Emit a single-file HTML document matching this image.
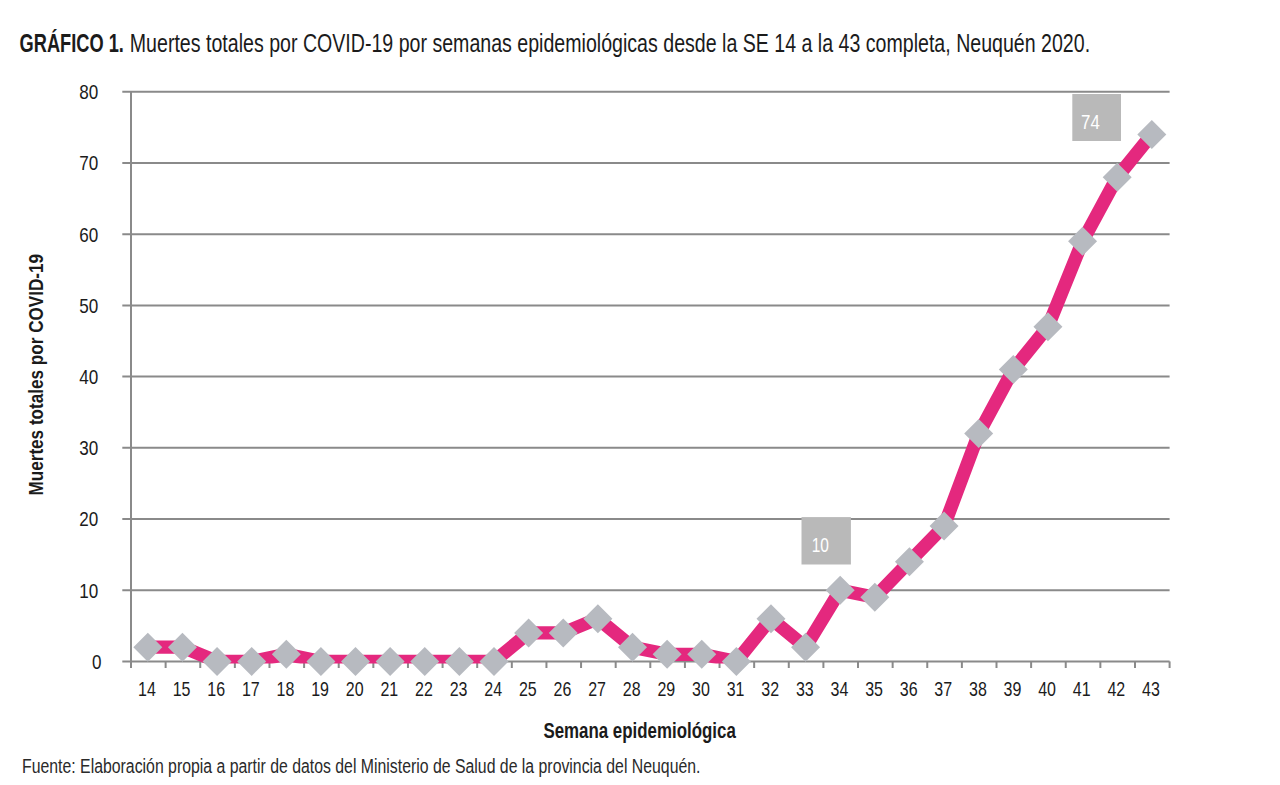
<!DOCTYPE html>
<html><head><meta charset="utf-8"><style>
html,body{margin:0;padding:0;background:#fff;}
body{width:1280px;height:785px;overflow:hidden;}
svg{display:block;font-family:"Liberation Sans",sans-serif;}
</style></head><body>
<svg width="1280" height="785" viewBox="0 0 1280 785">
<rect width="1280" height="785" fill="#fff"/>
<text x="19.6" y="51.6" font-size="25px" font-weight="bold" fill="#1b1b1b" textLength="104.3" lengthAdjust="spacingAndGlyphs">GRÁFICO 1.</text>
<text x="129.8" y="51.6" font-size="25px" fill="#1b1b1b" textLength="960.3" lengthAdjust="spacingAndGlyphs">Muertes totales por COVID-19 por semanas epidemiológicas desde la SE 14 a la 43 completa, Neuquén 2020.</text>
<g stroke="#8a8a8a" stroke-width="2" fill="none">
<line x1="122.3" y1="661.40" x2="1169.60" y2="661.40"/>
<line x1="122.3" y1="590.20" x2="1169.60" y2="590.20"/>
<line x1="122.3" y1="519.00" x2="1169.60" y2="519.00"/>
<line x1="122.3" y1="447.80" x2="1169.60" y2="447.80"/>
<line x1="122.3" y1="376.60" x2="1169.60" y2="376.60"/>
<line x1="122.3" y1="305.40" x2="1169.60" y2="305.40"/>
<line x1="122.3" y1="234.20" x2="1169.60" y2="234.20"/>
<line x1="122.3" y1="163.00" x2="1169.60" y2="163.00"/>
<line x1="122.3" y1="91.80" x2="1169.60" y2="91.80"/>

<line x1="131.00" y1="90.90" x2="131.00" y2="668"/>
<line x1="131.00" y1="661.40" x2="131.00" y2="668"/>
<line x1="165.62" y1="661.40" x2="165.62" y2="668"/>
<line x1="200.24" y1="661.40" x2="200.24" y2="668"/>
<line x1="234.86" y1="661.40" x2="234.86" y2="668"/>
<line x1="269.48" y1="661.40" x2="269.48" y2="668"/>
<line x1="304.10" y1="661.40" x2="304.10" y2="668"/>
<line x1="338.72" y1="661.40" x2="338.72" y2="668"/>
<line x1="373.34" y1="661.40" x2="373.34" y2="668"/>
<line x1="407.96" y1="661.40" x2="407.96" y2="668"/>
<line x1="442.58" y1="661.40" x2="442.58" y2="668"/>
<line x1="477.20" y1="661.40" x2="477.20" y2="668"/>
<line x1="511.82" y1="661.40" x2="511.82" y2="668"/>
<line x1="546.44" y1="661.40" x2="546.44" y2="668"/>
<line x1="581.06" y1="661.40" x2="581.06" y2="668"/>
<line x1="615.68" y1="661.40" x2="615.68" y2="668"/>
<line x1="650.30" y1="661.40" x2="650.30" y2="668"/>
<line x1="684.92" y1="661.40" x2="684.92" y2="668"/>
<line x1="719.54" y1="661.40" x2="719.54" y2="668"/>
<line x1="754.16" y1="661.40" x2="754.16" y2="668"/>
<line x1="788.78" y1="661.40" x2="788.78" y2="668"/>
<line x1="823.40" y1="661.40" x2="823.40" y2="668"/>
<line x1="858.02" y1="661.40" x2="858.02" y2="668"/>
<line x1="892.64" y1="661.40" x2="892.64" y2="668"/>
<line x1="927.26" y1="661.40" x2="927.26" y2="668"/>
<line x1="961.88" y1="661.40" x2="961.88" y2="668"/>
<line x1="996.50" y1="661.40" x2="996.50" y2="668"/>
<line x1="1031.12" y1="661.40" x2="1031.12" y2="668"/>
<line x1="1065.74" y1="661.40" x2="1065.74" y2="668"/>
<line x1="1100.36" y1="661.40" x2="1100.36" y2="668"/>
<line x1="1134.98" y1="661.40" x2="1134.98" y2="668"/>
<line x1="1169.60" y1="661.40" x2="1169.60" y2="668"/>

</g>
<g font-size="21px" fill="#1b1b1b">
<text x="101.6" y="668.70" text-anchor="end" textLength="9.5" lengthAdjust="spacingAndGlyphs">0</text>
<text x="98.3" y="597.50" text-anchor="end" textLength="19" lengthAdjust="spacingAndGlyphs">10</text>
<text x="98.3" y="526.30" text-anchor="end" textLength="19" lengthAdjust="spacingAndGlyphs">20</text>
<text x="98.3" y="455.10" text-anchor="end" textLength="19" lengthAdjust="spacingAndGlyphs">30</text>
<text x="98.3" y="383.90" text-anchor="end" textLength="19" lengthAdjust="spacingAndGlyphs">40</text>
<text x="98.3" y="312.70" text-anchor="end" textLength="19" lengthAdjust="spacingAndGlyphs">50</text>
<text x="98.3" y="241.50" text-anchor="end" textLength="19" lengthAdjust="spacingAndGlyphs">60</text>
<text x="98.3" y="170.30" text-anchor="end" textLength="19" lengthAdjust="spacingAndGlyphs">70</text>
<text x="98.3" y="99.10" text-anchor="end" textLength="19" lengthAdjust="spacingAndGlyphs">80</text>

<text x="147.01" y="695.9" text-anchor="middle" textLength="17.8" lengthAdjust="spacingAndGlyphs">14</text>
<text x="181.63" y="695.9" text-anchor="middle" textLength="17.8" lengthAdjust="spacingAndGlyphs">15</text>
<text x="216.25" y="695.9" text-anchor="middle" textLength="17.8" lengthAdjust="spacingAndGlyphs">16</text>
<text x="250.87" y="695.9" text-anchor="middle" textLength="17.8" lengthAdjust="spacingAndGlyphs">17</text>
<text x="285.49" y="695.9" text-anchor="middle" textLength="17.8" lengthAdjust="spacingAndGlyphs">18</text>
<text x="320.11" y="695.9" text-anchor="middle" textLength="17.8" lengthAdjust="spacingAndGlyphs">19</text>
<text x="354.73" y="695.9" text-anchor="middle" textLength="17.8" lengthAdjust="spacingAndGlyphs">20</text>
<text x="389.35" y="695.9" text-anchor="middle" textLength="17.8" lengthAdjust="spacingAndGlyphs">21</text>
<text x="423.97" y="695.9" text-anchor="middle" textLength="17.8" lengthAdjust="spacingAndGlyphs">22</text>
<text x="458.59" y="695.9" text-anchor="middle" textLength="17.8" lengthAdjust="spacingAndGlyphs">23</text>
<text x="493.21" y="695.9" text-anchor="middle" textLength="17.8" lengthAdjust="spacingAndGlyphs">24</text>
<text x="527.83" y="695.9" text-anchor="middle" textLength="17.8" lengthAdjust="spacingAndGlyphs">25</text>
<text x="562.45" y="695.9" text-anchor="middle" textLength="17.8" lengthAdjust="spacingAndGlyphs">26</text>
<text x="597.07" y="695.9" text-anchor="middle" textLength="17.8" lengthAdjust="spacingAndGlyphs">27</text>
<text x="631.69" y="695.9" text-anchor="middle" textLength="17.8" lengthAdjust="spacingAndGlyphs">28</text>
<text x="666.31" y="695.9" text-anchor="middle" textLength="17.8" lengthAdjust="spacingAndGlyphs">29</text>
<text x="700.93" y="695.9" text-anchor="middle" textLength="17.8" lengthAdjust="spacingAndGlyphs">30</text>
<text x="735.55" y="695.9" text-anchor="middle" textLength="17.8" lengthAdjust="spacingAndGlyphs">31</text>
<text x="770.17" y="695.9" text-anchor="middle" textLength="17.8" lengthAdjust="spacingAndGlyphs">32</text>
<text x="804.79" y="695.9" text-anchor="middle" textLength="17.8" lengthAdjust="spacingAndGlyphs">33</text>
<text x="839.41" y="695.9" text-anchor="middle" textLength="17.8" lengthAdjust="spacingAndGlyphs">34</text>
<text x="874.03" y="695.9" text-anchor="middle" textLength="17.8" lengthAdjust="spacingAndGlyphs">35</text>
<text x="908.65" y="695.9" text-anchor="middle" textLength="17.8" lengthAdjust="spacingAndGlyphs">36</text>
<text x="943.27" y="695.9" text-anchor="middle" textLength="17.8" lengthAdjust="spacingAndGlyphs">37</text>
<text x="977.89" y="695.9" text-anchor="middle" textLength="17.8" lengthAdjust="spacingAndGlyphs">38</text>
<text x="1012.51" y="695.9" text-anchor="middle" textLength="17.8" lengthAdjust="spacingAndGlyphs">39</text>
<text x="1047.13" y="695.9" text-anchor="middle" textLength="17.8" lengthAdjust="spacingAndGlyphs">40</text>
<text x="1081.75" y="695.9" text-anchor="middle" textLength="17.8" lengthAdjust="spacingAndGlyphs">41</text>
<text x="1116.37" y="695.9" text-anchor="middle" textLength="17.8" lengthAdjust="spacingAndGlyphs">42</text>
<text x="1150.99" y="695.9" text-anchor="middle" textLength="17.8" lengthAdjust="spacingAndGlyphs">43</text>

</g>
<defs><clipPath id="pc"><rect x="0" y="0" width="1280" height="663.4"/></clipPath></defs>
<path clip-path="url(#pc)" d="M147.81,647.16 L182.43,647.16 L217.05,661.40 L251.67,661.40 L286.29,654.28 L320.91,661.40 L355.53,661.40 L390.15,661.40 L424.77,661.40 L459.39,661.40 L494.01,661.40 L528.63,632.92 L563.25,632.92 L597.87,618.68 L632.49,647.16 L667.11,654.28 L701.73,654.28 L736.35,661.40 L770.97,618.68 L805.59,647.16 L840.21,590.20 L874.83,597.32 L909.45,561.72 L944.07,526.12 L978.69,433.56 L1013.31,369.48 L1047.93,326.76 L1082.55,241.32 L1117.17,177.24 L1151.79,134.52" fill="none" stroke="#e4287e" stroke-width="13.3" stroke-linejoin="round"/>
<g fill="#b7bac0">
<path d="M147.81,632.66 L162.31,647.16 L147.81,661.66 L133.31,647.16Z"/>
<path d="M182.43,632.66 L196.93,647.16 L182.43,661.66 L167.93,647.16Z"/>
<path d="M217.05,646.90 L231.55,661.40 L217.05,675.90 L202.55,661.40Z"/>
<path d="M251.67,646.90 L266.17,661.40 L251.67,675.90 L237.17,661.40Z"/>
<path d="M286.29,639.78 L300.79,654.28 L286.29,668.78 L271.79,654.28Z"/>
<path d="M320.91,646.90 L335.41,661.40 L320.91,675.90 L306.41,661.40Z"/>
<path d="M355.53,646.90 L370.03,661.40 L355.53,675.90 L341.03,661.40Z"/>
<path d="M390.15,646.90 L404.65,661.40 L390.15,675.90 L375.65,661.40Z"/>
<path d="M424.77,646.90 L439.27,661.40 L424.77,675.90 L410.27,661.40Z"/>
<path d="M459.39,646.90 L473.89,661.40 L459.39,675.90 L444.89,661.40Z"/>
<path d="M494.01,646.90 L508.51,661.40 L494.01,675.90 L479.51,661.40Z"/>
<path d="M528.63,618.42 L543.13,632.92 L528.63,647.42 L514.13,632.92Z"/>
<path d="M563.25,618.42 L577.75,632.92 L563.25,647.42 L548.75,632.92Z"/>
<path d="M597.87,604.18 L612.37,618.68 L597.87,633.18 L583.37,618.68Z"/>
<path d="M632.49,632.66 L646.99,647.16 L632.49,661.66 L617.99,647.16Z"/>
<path d="M667.11,639.78 L681.61,654.28 L667.11,668.78 L652.61,654.28Z"/>
<path d="M701.73,639.78 L716.23,654.28 L701.73,668.78 L687.23,654.28Z"/>
<path d="M736.35,646.90 L750.85,661.40 L736.35,675.90 L721.85,661.40Z"/>
<path d="M770.97,604.18 L785.47,618.68 L770.97,633.18 L756.47,618.68Z"/>
<path d="M805.59,632.66 L820.09,647.16 L805.59,661.66 L791.09,647.16Z"/>
<path d="M840.21,575.70 L854.71,590.20 L840.21,604.70 L825.71,590.20Z"/>
<path d="M874.83,582.82 L889.33,597.32 L874.83,611.82 L860.33,597.32Z"/>
<path d="M909.45,547.22 L923.95,561.72 L909.45,576.22 L894.95,561.72Z"/>
<path d="M944.07,511.62 L958.57,526.12 L944.07,540.62 L929.57,526.12Z"/>
<path d="M978.69,419.06 L993.19,433.56 L978.69,448.06 L964.19,433.56Z"/>
<path d="M1013.31,354.98 L1027.81,369.48 L1013.31,383.98 L998.81,369.48Z"/>
<path d="M1047.93,312.26 L1062.43,326.76 L1047.93,341.26 L1033.43,326.76Z"/>
<path d="M1082.55,226.82 L1097.05,241.32 L1082.55,255.82 L1068.05,241.32Z"/>
<path d="M1117.17,162.74 L1131.67,177.24 L1117.17,191.74 L1102.67,177.24Z"/>
<path d="M1151.79,120.02 L1166.29,134.52 L1151.79,149.02 L1137.29,134.52Z"/>

</g>
<rect x="1072.3" y="94" width="48.7" height="47" fill="#b9b9b9"/>
<text x="1081.1" y="128.9" font-size="20px" fill="#fff" textLength="18.7" lengthAdjust="spacingAndGlyphs">74</text>
<rect x="801.5" y="517.1" width="49.4" height="47.4" fill="#b9b9b9"/>
<text x="811.7" y="551.9" font-size="20px" fill="#fff" textLength="17.2" lengthAdjust="spacingAndGlyphs">10</text>
<text x="543.4" y="737.8" font-size="21.5px" font-weight="bold" fill="#1b1b1b" textLength="192.4" lengthAdjust="spacingAndGlyphs">Semana epidemiológica</text>
<text transform="translate(43.2,495.5) rotate(-90)" x="0" y="0" font-size="21px" font-weight="bold" fill="#1b1b1b" textLength="241.6" lengthAdjust="spacingAndGlyphs">Muertes totales por COVID-19</text>
<text x="22.0" y="772.8" font-size="19.5px" fill="#2a2a2a" textLength="678.5" lengthAdjust="spacingAndGlyphs">Fuente: Elaboración propia a partir de datos del Ministerio de Salud de la provincia del Neuquén.</text>
</svg>
</body></html>
